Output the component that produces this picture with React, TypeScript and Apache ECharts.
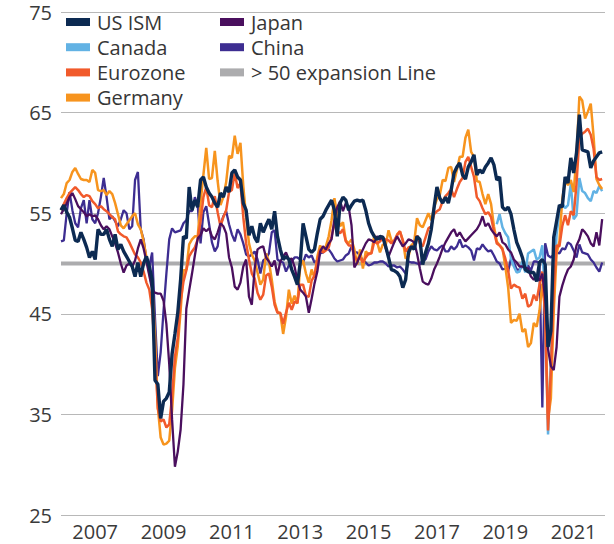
import React, { useEffect, useRef } from "react";
import * as echarts from "echarts";

// Monthly categories Jan 2006 – Dec 2021
const startYear = 2006;
const endYear = 2021;
const months: string[] = [];
for (let y = startYear; y <= endYear; y++) {
  for (let m = 1; m <= 12; m++) months.push(`${y}-${m < 10 ? "0" + m : m}`);
}

const yTicks = [25, 35, 45, 55, 65, 75];
const expansionLevel = 50;

// Values Jan 2006 – Nov 2021 (one row per year)
const usIsm = [
  55.3, 55.8, 55.1, 54.6, 53.5, 52.3, 52.2, 53.1, 52.4, 51.6, 50.6, 51.2,
  50.4, 53.4, 52.9, 52.9, 53.4, 52.4, 51.7, 52.9, 51.4, 51.9, 51.2, 50.7,
  50.2, 49.7, 48.7, 50.1, 48.7, 50.0, 50.7, 49.7, 48.4, 38.4, 38.0, 34.6,
  36.3, 36.6, 37.2, 41.0, 43.0, 45.1, 48.4, 52.7, 52.5, 57.6, 55.3, 56.3,
  55.6, 58.3, 58.6, 57.6, 57.0, 56.6, 56.0, 55.6, 57.0, 56.6, 57.6, 57.1,
  59.0, 59.3, 58.6, 58.3, 56.0, 55.3, 52.8, 53.7, 52.6, 52.1, 54.0, 53.1,
  53.8, 54.4, 53.4, 55.2, 52.7, 51.4, 50.4, 50.7, 50.4, 49.4, 48.7, 47.9,
  50.1, 54.0, 52.7, 51.4, 51.1, 51.4, 53.0, 54.4, 54.7, 55.3, 55.8, 56.3,
  55.3, 52.7, 56.0, 56.6, 56.3, 55.3, 55.8, 56.2, 56.3, 56.2, 56.3, 55.3,
  54.0, 53.2, 52.7, 52.4, 52.7, 52.6, 51.7, 50.6, 49.4, 49.3, 49.1, 48.7,
  47.6, 48.4, 51.1, 51.7, 51.4, 52.7, 52.4, 49.9, 51.1, 52.0, 53.4, 55.6,
  57.6, 56.5, 56.0, 56.6, 56.0, 57.3, 59.0, 59.6, 60.0, 58.8, 58.4, 59.6,
  60.1, 60.8, 58.8, 59.3, 59.0, 59.6, 60.0, 60.5, 59.8, 58.3, 58.6, 55.6,
  55.3, 55.6, 54.9, 53.4, 52.1, 51.4, 50.6, 49.4, 49.2, 49.1, 49.1, 48.2,
  50.1, 50.4, 49.9, 41.7, 43.3, 52.6, 54.2, 55.8, 55.6, 58.6, 58.0, 60.5,
  59.0, 61.0, 64.8, 61.3, 61.2, 61.1, 59.5, 60.2, 60.6, 61.0, 61.1,
];

// Canada starts Oct 2018
const canadaStart = "2018-10";
const canada = [
  53.9, 54.9, 53.6,
  53.0, 52.6, 50.5, 49.7, 49.1, 49.2, 50.2, 49.1, 51.0, 51.2, 51.4, 50.4,
  50.6, 51.8, 46.1, 33.0, 40.6, 47.8, 52.9, 55.1, 56.0, 55.5, 55.8, 57.9,
  54.4, 54.8, 58.5, 57.2, 57.0, 56.5, 56.2, 57.2, 57.0, 57.7, 57.2,
];

const eurozone = [
  55.3, 55.9, 56.5, 57.0, 57.3, 57.6, 57.3, 56.9, 56.6, 56.8, 56.7, 56.2,
  55.9, 55.5, 55.7, 55.4, 55.2, 54.9, 54.6, 54.4, 53.2, 52.9, 52.7, 52.6,
  52.1, 51.5, 50.9, 50.6, 50.1, 49.2, 48.1, 47.4, 45.5, 41.1, 35.6, 34.3,
  34.5, 33.7, 34.0, 36.8, 40.7, 42.6, 46.3, 48.2, 49.3, 50.7, 51.2, 51.6,
  52.4, 54.2, 56.6, 57.6, 55.8, 55.6, 56.7, 55.1, 53.7, 54.6, 55.3, 57.1,
  57.3, 59.0, 57.5, 58.0, 54.6, 52.0, 50.4, 49.0, 48.5, 47.1, 46.4, 46.9,
  48.8, 49.0, 47.7, 45.9, 45.1, 45.1, 44.0, 45.1, 46.1, 45.4, 46.2, 46.1,
  47.9, 47.9, 46.8, 46.7, 48.3, 48.8, 50.3, 51.4, 51.1, 51.3, 51.6, 52.7,
  54.0, 53.2, 53.0, 53.4, 52.2, 51.8, 51.8, 50.7, 50.3, 50.6, 50.1, 50.6,
  51.0, 51.0, 52.2, 52.0, 52.2, 52.5, 52.4, 52.3, 52.0, 52.3, 52.8, 53.2,
  52.3, 51.2, 51.6, 51.7, 51.5, 52.8, 52.0, 51.7, 52.6, 53.5, 53.7, 54.9,
  55.2, 55.4, 56.2, 56.7, 57.0, 57.4, 56.6, 57.4, 58.1, 58.5, 60.1, 60.6,
  59.6, 58.6, 56.6, 56.2, 55.5, 54.9, 55.1, 54.6, 53.2, 52.0, 51.8, 51.4,
  50.5, 49.3, 47.5, 47.9, 47.7, 47.6, 46.5, 47.0, 45.7, 45.9, 46.9, 46.3,
  47.9, 49.2, 44.5, 33.4, 39.4, 47.4, 51.8, 51.7, 53.7, 54.8, 53.8, 55.2,
  54.8, 57.9, 62.5, 62.9, 63.1, 63.4, 62.8, 61.4, 58.6, 58.3, 58.4,
];

const germany = [
  56.5, 56.9, 58.0, 58.3, 59.1, 59.5, 58.9, 58.4, 58.3, 58.3, 58.1, 59.3,
  59.0, 57.3, 57.2, 57.3, 56.8, 57.2, 56.9, 56.0, 54.9, 53.8, 53.5, 53.9,
  54.3, 54.7, 55.0, 53.9, 53.4, 52.2, 50.6, 49.0, 47.8, 42.9, 35.7, 32.7,
  32.0, 32.1, 32.4, 35.4, 39.6, 41.8, 45.3, 49.3, 49.4, 51.9, 52.4, 52.7,
  52.7, 56.0, 58.8, 61.5, 58.4, 58.5, 61.2, 58.2, 55.8, 56.6, 58.1, 60.7,
  60.5, 62.7, 60.9, 62.0, 57.7, 54.6, 52.0, 50.9, 50.3, 49.1, 47.9, 48.4,
  51.0, 50.2, 48.4, 46.2, 45.2, 45.0, 43.0, 44.7, 47.4, 46.0, 46.8, 46.0,
  49.8, 50.3, 49.0, 48.1, 49.4, 48.6, 50.7, 51.8, 51.1, 51.7, 52.7, 54.3,
  56.5, 54.8, 53.7, 54.1, 52.3, 52.0, 52.4, 51.4, 49.9, 51.4, 49.5, 51.2,
  50.9, 51.1, 52.8, 52.1, 51.1, 51.9, 51.8, 53.3, 52.3, 52.1, 52.9, 53.2,
  52.3, 50.5, 50.7, 51.8, 52.1, 54.5, 53.8, 53.6, 54.3, 55.0, 54.3, 55.6,
  56.4, 56.8, 58.3, 58.2, 59.5, 59.6, 58.1, 59.3, 60.6, 60.6, 62.5, 63.3,
  61.1, 60.6, 58.2, 58.1, 56.9, 55.9, 56.9, 55.9, 53.7, 52.2, 51.8, 51.5,
  49.7, 47.6, 44.1, 44.4, 44.3, 45.0, 43.2, 43.5, 41.7, 42.1, 44.1, 43.7,
  45.3, 48.0, 45.4, 34.5, 36.6, 45.2, 51.0, 52.2, 56.4, 58.2, 57.8, 58.3,
  57.1, 60.7, 66.6, 66.2, 64.4, 65.1, 65.9, 62.6, 58.4, 57.8, 57.4,
];

const japan = [
  54.9, 55.4, 56.0, 56.6, 57.0, 56.4, 55.7, 55.4, 55.1, 54.7, 54.9, 54.7,
  54.8, 54.4, 53.8, 53.4, 53.7, 53.4, 52.7, 52.0, 51.1, 50.0, 49.1, 49.8,
  50.0, 49.7, 50.3, 51.5, 52.4, 51.5, 50.2, 48.8, 47.4, 47.1, 47.0, 47.0,
  46.3, 44.0, 40.0, 34.5, 29.8, 31.3, 33.5, 38.0, 45.5, 47.3, 49.0, 50.8,
  52.5, 52.8, 53.5, 53.2, 53.5, 52.7, 52.4, 53.1, 54.0, 53.7, 53.0, 50.6,
  49.6, 47.7, 47.4, 48.1, 49.7, 50.4, 46.7, 45.9, 49.5, 51.4, 51.6, 51.7,
  50.6, 50.2, 49.7, 50.3, 48.8, 50.2, 50.7, 51.1, 50.4, 50.5, 49.7, 48.3,
  47.4, 47.1, 46.7, 45.1, 46.5, 48.0, 49.2, 51.2, 51.7, 51.4, 52.0, 52.4,
  54.4, 55.6, 56.2, 55.2, 56.0, 55.6, 53.8, 49.6, 50.1, 50.8, 51.4, 52.0,
  52.4, 52.3, 52.1, 52.7, 52.4, 52.7, 51.5, 50.7, 51.4, 52.1, 52.7, 52.2,
  51.7, 52.0, 52.4, 52.3, 52.1, 51.0, 49.5, 48.2, 48.0, 47.9, 48.5, 49.4,
  50.0, 50.7, 51.5, 52.1, 52.6, 53.1, 53.4, 52.7, 53.1, 52.6, 52.2, 52.5,
  52.8, 53.1, 53.4, 53.9, 54.7, 53.7, 54.0, 53.4, 53.0, 52.7, 53.1, 52.1,
  51.9, 51.4, 51.1, 50.4, 50.1, 49.7, 49.7, 49.6, 49.5, 48.7, 48.4, 48.7,
  48.3, 49.0, 46.5, 41.5, 39.8, 39.4, 41.7, 46.7, 47.8, 48.7, 49.4, 49.7,
  50.4, 51.8, 52.4, 53.4, 53.1, 52.7, 52.0, 51.7, 53.1, 51.8, 54.4,
];

const china = [
  52.2, 52.3, 55.0, 57.1, 55.3, 54.0, 53.6, 55.5, 56.3, 54.0, 56.3, 54.4,
  54.0, 55.0, 56.6, 58.5, 56.6, 54.4, 54.7, 54.2, 53.7, 54.4, 55.3, 55.0,
  53.4, 53.7, 58.3, 59.1, 53.4, 52.4, 50.4, 49.7, 51.1, 44.6, 38.8, 41.2,
  45.3, 49.0, 52.4, 53.5, 53.1, 53.2, 53.3, 54.0, 54.3, 55.2, 55.2, 56.6,
  55.8, 52.0, 55.1, 55.7, 53.9, 52.1, 51.2, 51.7, 53.8, 54.7, 55.2, 53.9,
  52.9, 52.2, 53.4, 52.9, 52.0, 50.9, 50.7, 50.9, 51.2, 50.4, 49.0, 50.3,
  50.5, 51.0, 53.1, 53.3, 50.4, 50.2, 50.1, 49.2, 49.8, 50.2, 50.6, 50.6,
  50.4, 50.1, 50.9, 50.6, 50.8, 50.1, 50.3, 51.0, 51.1, 51.4, 51.4, 51.0,
  50.5, 50.2, 50.3, 50.4, 50.8, 51.0, 51.7, 51.1, 51.1, 50.8, 50.3, 50.1,
  49.8, 49.9, 50.1, 50.1, 50.2, 50.2, 50.0, 49.7, 49.8, 49.8, 49.6, 49.7,
  49.4, 49.0, 50.2, 50.1, 50.1, 50.0, 49.9, 50.4, 50.4, 51.2, 51.7, 51.4,
  51.3, 51.6, 51.8, 51.2, 51.2, 51.7, 51.4, 51.7, 52.4, 51.6, 51.8, 51.6,
  51.3, 50.3, 51.5, 51.4, 51.9, 51.5, 51.2, 51.3, 50.8, 50.2, 50.0, 49.4,
  49.5, 49.2, 50.5, 50.1, 49.4, 49.4, 49.7, 49.5, 49.8, 49.3, 50.2, 50.2,
  50.0, 35.7, 52.0, 50.8, 50.6, 50.9, 51.1, 51.0, 51.5, 51.4, 52.1, 51.9,
  51.3, 50.6, 51.9, 51.1, 51.0, 50.9, 50.4, 50.1, 49.6, 49.2, 50.1,
];

const colors = {
  us: "#0c2a52",
  canada: "#62b2e4",
  eurozone: "#f15a2b",
  germany: "#f7941e",
  japan: "#4a0f5e",
  china: "#3d2d91",
  line: "#acacae",
};

const canadaOffset = months.indexOf(canadaStart);
const canadaSeries = months
  .slice(0, canadaOffset)
  .map(() => null as number | null)
  .concat(canada);
const expansionSeries = months.map(() => expansionLevel);

const FONT = "'Open Sans', 'Noto Sans', sans-serif";

export default function App() {
  const ref = useRef<HTMLDivElement>(null);
  useEffect(() => {
    if (!ref.current) return;
    const chart = echarts.init(ref.current, undefined, { renderer: "svg" });
    const legendText = { fontSize: 20, lineHeight: 20, color: "#363636", fontFamily: FONT, padding: [0, 0, 0, 2] };
    const legendBase = {
      top: 7,
      padding: 5,
      orient: "vertical",
      itemWidth: 24,
      itemHeight: 8,
      itemGap: 5.2,
      icon: "rect",
      textStyle: legendText,
    };
    chart.setOption({
      animation: false,
      backgroundColor: "#ffffff",
      textStyle: { fontFamily: FONT },
      grid: { left: 61, right: 9, top: 12, bottom: 29, containLabel: false },
      legend: [
        { ...legendBase, left: 61, data: ["US ISM", "Canada", "Eurozone", "Germany"] },
        { ...legendBase, left: 215, data: ["Japan", "China", "> 50 expansion Line"] },
      ],
      xAxis: {
        type: "category",
        data: months,
        boundaryGap: false,
        axisLine: { show: false },
        axisTick: { show: false },
        splitLine: { show: false },
        axisLabel: {
          interval: (_i: number, v: string) => v.endsWith("-01") && parseInt(v.slice(0, 4), 10) % 2 === 1,
          formatter: (v: string) => v.slice(0, 4),
          fontSize: 20,
          lineHeight: 20,
          color: "#3a3a3a",
          fontFamily: FONT,
          margin: 6,
        },
      },
      yAxis: {
        type: "value",
        min: yTicks[0],
        max: yTicks[yTicks.length - 1],
        interval: 10,
        axisLine: { show: false },
        axisTick: { show: false },
        splitLine: { show: true, lineStyle: { color: "#b8b8b8", width: 1 } },
        axisLabel: { fontSize: 20, lineHeight: 20, color: "#3a3a3a", fontFamily: FONT, margin: 9 },
      },
      series: [
        {
          name: "> 50 expansion Line",
          type: "line",
          data: expansionSeries,
          showSymbol: false,
          color: colors.line,
          lineStyle: { width: 4, color: colors.line },
        },
        { name: "China", type: "line", data: china, showSymbol: false, color: colors.china, lineStyle: { width: 2.3 } },
        { name: "Canada", type: "line", data: canadaSeries, showSymbol: false, color: colors.canada, lineStyle: { width: 2.5 } },
        { name: "Germany", type: "line", data: germany, showSymbol: false, color: colors.germany, lineStyle: { width: 2.5 } },
        { name: "Eurozone", type: "line", data: eurozone, showSymbol: false, color: colors.eurozone, lineStyle: { width: 2.5 } },
        { name: "Japan", type: "line", data: japan, showSymbol: false, color: colors.japan, lineStyle: { width: 2.3 } },
        { name: "US ISM", type: "line", data: usIsm, showSymbol: false, color: colors.us, lineStyle: { width: 3.4 } },
      ],
    });
    return () => chart.dispose();
  }, []);
  return <div ref={ref} style={{ position: "fixed", left: 0, top: 0, width: 614, height: 544 }} />;
}
